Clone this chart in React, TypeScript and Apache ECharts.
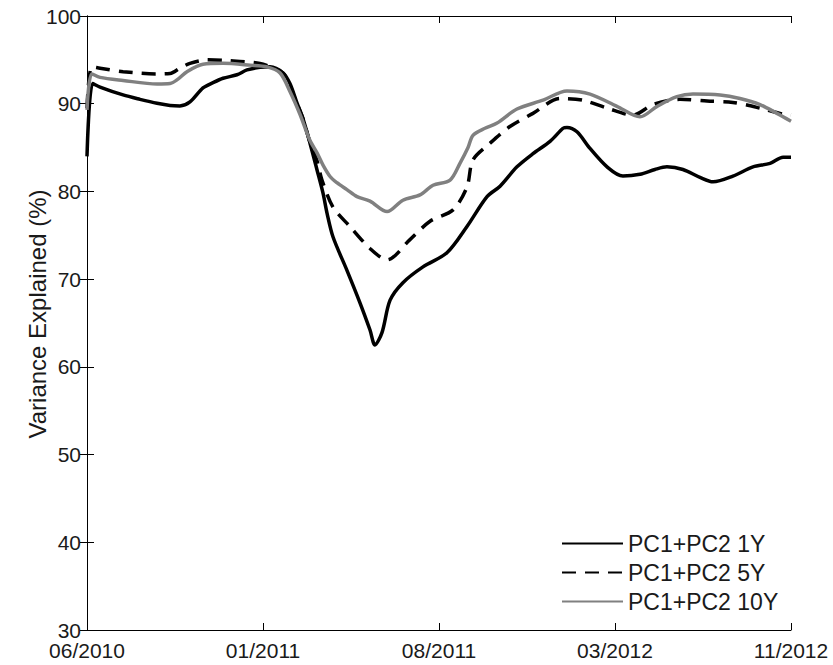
import React, { useEffect, useRef } from "react";
import * as echarts from "echarts";

// x positions are expressed in tick units (0 = 06/2010 ... 4 = 11/2012)
const tickLabels = ["06/2010", "01/2011", "08/2011", "03/2012", "11/2012"];

const x1Y = [0, 0.032, 0.074, 0.205, 0.301, 0.398, 0.472, 0.528, 0.585, 0.659, 0.716, 0.773, 0.852, 0.909, 0.983, 1.04, 1.114, 1.153, 1.193, 1.227, 1.267, 1.307, 1.341, 1.364, 1.398, 1.477, 1.551, 1.608, 1.636, 1.676, 1.722, 1.795, 1.909, 2.045, 2.159, 2.273, 2.347, 2.443, 2.534, 2.631, 2.705, 2.727, 2.784, 2.858, 2.955, 3.045, 3.142, 3.227, 3.295, 3.386, 3.483, 3.557, 3.67, 3.784, 3.881, 3.955, 4.0];
const y1Y = [84.0, 92.3, 91.9, 91.0, 90.5, 90.05, 89.8, 89.75, 90.2, 91.8, 92.4, 92.9, 93.3, 93.85, 94.15, 94.2, 93.5, 92.3, 90.1, 88.3, 85.5, 82.45, 79.8, 77.5, 74.8, 71.0, 67.3, 64.2, 62.5, 63.9, 67.6, 69.6, 71.4, 73.0, 76.0, 79.4, 80.6, 82.8, 84.3, 85.7, 87.2, 87.3, 86.8, 84.9, 82.8, 81.75, 81.95, 82.5, 82.8, 82.5, 81.6, 81.1, 81.75, 82.8, 83.2, 83.9, 83.9];

const x5Y = [0, 0.028, 0.074, 0.205, 0.398, 0.472, 0.528, 0.585, 0.682, 0.813, 0.983, 1.04, 1.114, 1.153, 1.193, 1.227, 1.267, 1.307, 1.335, 1.398, 1.494, 1.608, 1.705, 1.835, 1.949, 2.08, 2.159, 2.193, 2.29, 2.403, 2.534, 2.688, 2.818, 2.955, 3.102, 3.216, 3.369, 3.523, 3.67, 3.824, 3.955, 4.0];
const y5Y = [89.5, 94.2, 94.05, 93.65, 93.4, 93.45, 94.05, 94.6, 95.0, 94.9, 94.6, 94.2, 93.5, 92.0, 90.0, 88.3, 85.6, 83.5, 81.3, 78.2, 76.0, 73.5, 72.2, 74.5, 76.6, 77.9, 80.5, 83.6, 85.5, 87.4, 88.9, 90.6, 90.4, 89.5, 88.7, 89.9, 90.5, 90.3, 90.15, 89.5, 88.8, 88.7];

const x10Y = [0, 0.027, 0.074, 0.205, 0.398, 0.472, 0.517, 0.568, 0.659, 0.773, 0.926, 1.023, 1.097, 1.153, 1.21, 1.267, 1.307, 1.341, 1.381, 1.42, 1.477, 1.534, 1.608, 1.705, 1.795, 1.892, 1.966, 2.063, 2.119, 2.165, 2.193, 2.261, 2.33, 2.443, 2.591, 2.727, 2.858, 3.011, 3.142, 3.239, 3.352, 3.443, 3.597, 3.71, 3.824, 3.92, 4.0];
const y10Y = [89.3, 93.4, 93.0, 92.65, 92.25, 92.3, 92.8, 93.65, 94.5, 94.6, 94.4, 94.2, 93.5, 91.4, 88.8, 85.8, 84.4, 83.0, 81.7, 81.0, 80.2, 79.4, 78.9, 77.7, 79.0, 79.6, 80.7, 81.3, 83.2, 85.0, 86.4, 87.2, 87.8, 89.4, 90.4, 91.45, 91.1, 89.7, 88.5, 89.7, 90.8, 91.1, 91.0, 90.6, 89.9, 88.9, 88.0];

const seriesNames = ["PC1+PC2 1Y", "PC1+PC2 5Y", "PC1+PC2 10Y"];
const yTicks = { min: 30, max: 100, interval: 10 };

const zip = (xs: number[], ys: number[]) => xs.map((x, i) => [x, ys[i]]);

const FONT = '"Liberation Sans", Arial, Helvetica, sans-serif';
const TXT = "#1a1a1a";

export default function App() {
  const ref = useRef<HTMLDivElement>(null);
  useEffect(() => {
    if (!ref.current) return;
    const chart = echarts.init(ref.current, undefined, { renderer: "svg" });
    const axisLine = { show: true, lineStyle: { color: "#000", width: 1 } };
    const tick = { show: true, inside: true, length: 7, lineStyle: { color: "#000", width: 1 } };
    chart.setOption({
      animation: false,
      backgroundColor: "#fff",
      textStyle: { fontFamily: FONT },
      grid: { left: 87, right: 42, top: 16, bottom: 35, containLabel: false },
      xAxis: [
        {
          type: "value",
          min: 0,
          max: 4,
          interval: 1,
          axisLine,
          axisTick: tick,
          splitLine: { show: false },
          axisLabel: {
            margin: 12,
            fontSize: 21,
            lineHeight: 16,
            color: TXT,
            fontFamily: FONT,
            formatter: (v: number) => tickLabels[Math.round(v)] ?? "",
          },
        },
        {
          type: "value",
          position: "top",
          min: 0,
          max: 4,
          interval: 1,
          axisLine,
          axisTick: tick,
          splitLine: { show: false },
          axisLabel: { show: false },
        },
      ],
      yAxis: [
        {
          type: "value",
          ...yTicks,
          axisLine,
          axisTick: tick,
          splitLine: { show: false },
          axisLabel: { margin: 6, fontSize: 21, lineHeight: 16, color: TXT, fontFamily: FONT },
          name: "Variance Explained (%)",
          nameLocation: "middle",
          nameGap: 38,
          nameMoveOverlap: false,
          nameTextStyle: { fontSize: 24, color: TXT, fontFamily: FONT, padding: [0, 0, 0, 18] },
        },
        {
          type: "value",
          position: "right",
          ...yTicks,
          axisLine,
          axisTick: tick,
          splitLine: { show: false },
          axisLabel: { show: false },
        },
      ],
      legend: {
        orient: "vertical",
        left: 561,
        top: 532,
        padding: 0,
        itemWidth: 61,
        itemHeight: 14,
        itemGap: 6,
        itemStyle: { opacity: 0 },
        textStyle: { fontSize: 23, color: TXT, fontFamily: FONT, lineHeight: 22 },
        data: seriesNames,
      },
      series: [
        {
          name: seriesNames[0],
          type: "line",
          data: zip(x1Y, y1Y),
          symbol: "none",
          smooth: 0.3,
          lineStyle: { color: "#000", width: 3.5, type: "solid" },
          itemStyle: { color: "#000" },
          z: 3,
        },
        {
          name: seriesNames[1],
          type: "line",
          data: zip(x5Y, y5Y),
          symbol: "none",
          smooth: 0.3,
          lineStyle: { color: "#000", width: 3.5, type: [14, 9] },
          itemStyle: { color: "#000" },
          z: 2,
        },
        {
          name: seriesNames[2],
          type: "line",
          data: zip(x10Y, y10Y),
          symbol: "none",
          smooth: 0.3,
          lineStyle: { color: "#808080", width: 3.5, type: "solid" },
          itemStyle: { color: "#808080" },
          z: 4,
        },
      ],
    });
    return () => chart.dispose();
  }, []);
  return (
    <div
      ref={ref}
      style={{ position: "absolute", left: 0, top: 0, width: 833, height: 665 }}
    />
  );
}
